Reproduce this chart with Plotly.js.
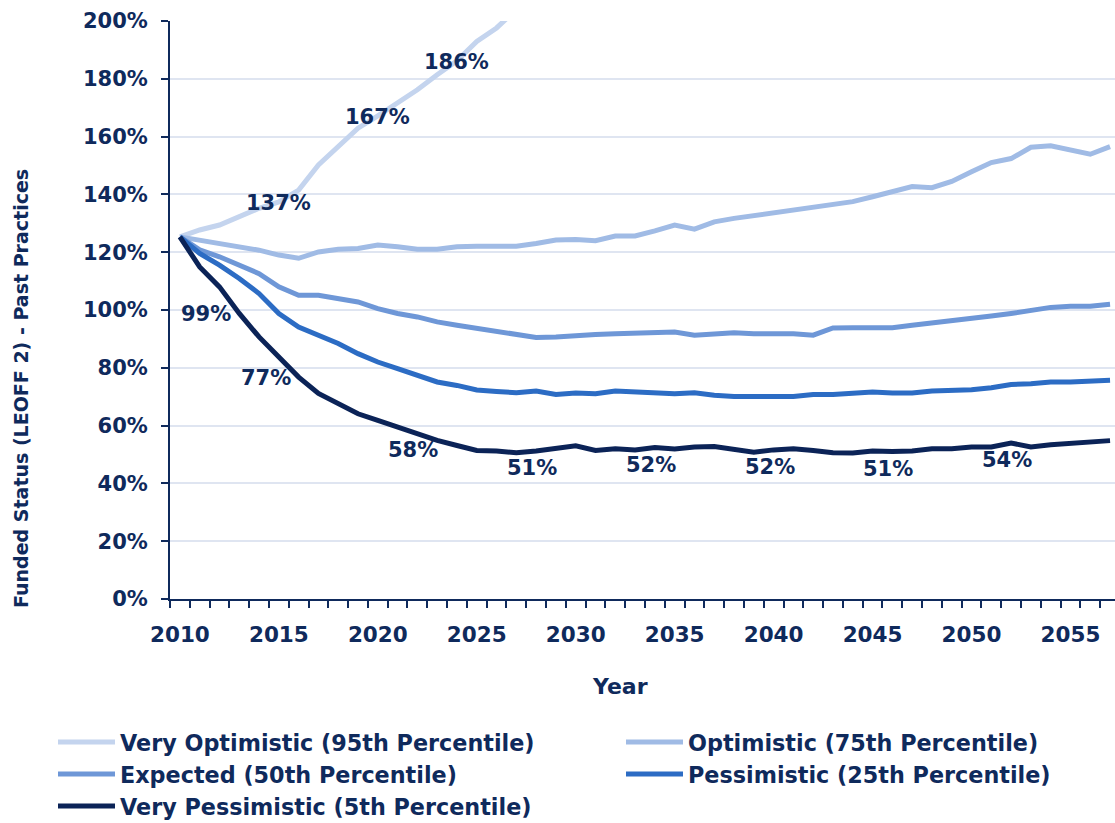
<!DOCTYPE html>
<html>
<head>
<meta charset="utf-8">
<script src="https://cdn.plot.ly/plotly-3.0.1.min.js"></script>
<style>
  html, body { margin: 0; padding: 0; background: #ffffff; }
  #chart { width: 1115px; height: 823px; }
</style>
</head>
<body>
<div id="chart"></div>
<script>
const years = [2010, 2011, 2012, 2013, 2014, 2015, 2016, 2017, 2018, 2019,
  2020, 2021, 2022, 2023, 2024, 2025, 2026, 2027, 2028, 2029,
  2030, 2031, 2032, 2033, 2034, 2035, 2036, 2037, 2038, 2039,
  2040, 2041, 2042, 2043, 2044, 2045, 2046, 2047, 2048, 2049,
  2050, 2051, 2052, 2053, 2054, 2055, 2056, 2057];

const veryOptimistic = [125.3, 127.7, 129.4, 132.3, 135.2, 137.4, 141.5, 150.2, 156.5, 162.9,
  167.2, 171.6, 176.2, 181.4, 186.2, 192.9, 197.6, 204.0, 210.0, null,
  null, null, null, null, null, null, null, null, null, null,
  null, null, null, null, null, null, null, null, null, null,
  null, null, null, null, null, null, null, null];

const optimistic = [125.3, 124.2, 123.3, 122.1, 120.7, 119.0, 117.9, 120.1, 121.0, 121.3,
  122.5, 121.9, 121.0, 121.0, 121.9, 122.1, 121.9, 122.1, 123.0, 124.2,
  124.4, 124.0, 125.6, 125.6, 127.4, 129.4, 128.0, 130.5, 131.7, 132.6,
  133.7, 134.6, 135.7, 136.4, 137.5, 139.2, 141.0, 142.7, 142.3, 144.5,
  147.8, 151.0, 152.4, 156.3, 156.8, 155.3, 153.9, 156.5];

const expected = [125.3, 120.8, 118.4, 115.5, 112.6, 108.0, 105.1, 105.1, 104.0, 102.8,
  100.5, 98.8, 97.6, 95.9, 94.7, 93.6, 92.4, 91.5, 90.5, 90.7,
  91.3, 91.5, 91.8, 92.1, 92.1, 92.4, 91.3, 91.8, 92.1, 91.8,
  91.8, 91.8, 91.3, 93.8, 93.9, 93.9, 93.9, 94.7, 95.5, 95.9,
  96.7, 97.9, 98.8, 99.9, 100.9, 101.3, 101.3, 102.0];

const pessimistic = [125.3, 119.6, 115.5, 110.9, 105.7, 98.8, 94.1, 91.3, 88.4, 84.9,
  82.0, 79.7, 77.4, 75.1, 73.9, 72.3, 71.8, 71.4, 72.0, 70.8,
  71.3, 71.0, 72.0, 71.6, 71.4, 71.0, 71.4, 70.5, 70.1, 69.9,
  70.1, 70.1, 70.8, 70.8, 71.0, 71.6, 71.3, 71.3, 72.0, 72.2,
  72.4, 73.1, 74.2, 74.5, 75.1, 75.1, 75.4, 75.7];

const veryPessimistic = [125.3, 114.9, 108.0, 98.8, 90.7, 83.7, 76.8, 71.1, 67.6, 64.1,
  61.8, 59.5, 57.6, 54.9, 53.1, 51.4, 51.2, 50.6, 51.2, 52.3,
  53.0, 51.4, 52.0, 51.6, 52.4, 51.9, 52.6, 52.8, 52.0, 50.8,
  51.6, 52.0, 51.4, 50.6, 50.5, 51.2, 51.0, 51.2, 52.0, 52.0,
  52.6, 52.6, 54.0, 52.6, 53.4, 54.0, 54.2, 54.8];

const seriesNames = [
  'Very Optimistic (95th Percentile)',
  'Optimistic (75th Percentile)',
  'Expected (50th Percentile)',
  'Pessimistic (25th Percentile)',
  'Very Pessimistic (5th Percentile)'
];

const voLabelYears = [2015, 2020, 2024];
const voLabelTexts = ['137%', '167%', '186%'];
const vpLabelYears = [2013, 2016, 2022, 2028, 2034, 2040, 2046, 2052];
const vpLabelTexts = ['99%', '77%', '58%', '51%', '52%', '52%', '51%', '54%'];

const xTickVals = [2010, 2015, 2020, 2025, 2030, 2035, 2040, 2045, 2050, 2055];
const xTickText = ['2010', '2015', '2020', '2025', '2030', '2035', '2040', '2045', '2050', '2055'];

const xTitle = 'Year';
const yTitle = 'Funded Status (LEOFF 2) - Past Practices';

// ---- styling ----
const W = 1115, H = 823;
const NAVY = '#0f2a5c';
const FONT = '"DejaVu Sans", sans-serif';
const colors = ['#c4d4ee', '#a0bbe5', '#6e97d7', '#2c6cc4', '#0b2357'];
const seriesData = [veryOptimistic, optimistic, expected, pessimistic, veryPessimistic];
const legendIds = ['legend', 'legend2', 'legend3', 'legend4', 'legend5'];
// legend slot (left px of line sample, row centre px) for each series
const legendSlots = [[58, 742], [626, 742], [58, 774], [626, 774], [58, 806]];

const PLOT_L = 170, PLOT_W = 945, PLOT_T = 21, PLOT_H = 578;
const PLOT_B = PLOT_T + PLOT_H;

const traces = seriesData.map((ys, i) => ({
  type: 'scatter',
  mode: 'lines',
  x: years,
  y: ys,
  name: seriesNames[i],
  legend: legendIds[i],
  line: { color: colors[i], width: 5, shape: 'linear' },
  connectgaps: false,
  hoverinfo: 'skip'
}));

function valueAt(arr, yr) { return arr[years.indexOf(yr)]; }

const labelFont = { family: FONT, size: 21, color: NAVY, weight: 'bold' };
const annotations = [];
voLabelYears.forEach((yr, k) => {
  annotations.push({
    x: yr, y: valueAt(veryOptimistic, yr), xref: 'x', yref: 'y',
    text: voLabelTexts[k], showarrow: false,
    xanchor: 'center', yanchor: 'middle', yshift: -1,
    font: labelFont
  });
});
vpLabelYears.forEach((yr, k) => {
  const left = k < 2;
  annotations.push({
    x: yr, y: valueAt(veryPessimistic, yr), xref: 'x', yref: 'y',
    text: vpLabelTexts[k], showarrow: false,
    xanchor: left ? 'right' : 'center',
    yanchor: left ? 'middle' : 'top',
    xshift: left ? -6 : -4,
    yshift: left ? -1 : -3,
    font: labelFont
  });
});
// axis titles placed as in the reference
annotations.push({
  xref: 'paper', yref: 'paper',
  x: (620 - PLOT_L) / PLOT_W, y: (PLOT_B - 686) / PLOT_H,
  xanchor: 'center', yanchor: 'middle', showarrow: false,
  text: xTitle, font: { family: FONT, size: 22, color: NAVY, weight: 'bold' }
});
annotations.push({
  xref: 'paper', yref: 'paper',
  x: (21 - PLOT_L) / PLOT_W, y: (PLOT_B - 389) / PLOT_H,
  xanchor: 'center', yanchor: 'middle', showarrow: false, textangle: -90,
  text: yTitle, font: { family: FONT, size: 19, color: NAVY, weight: 'bold' }
});

const layout = {
  width: W,
  height: H,
  margin: { l: PLOT_L, r: 0, t: PLOT_T, b: H - PLOT_B, autoexpand: false },
  paper_bgcolor: '#ffffff',
  plot_bgcolor: '#ffffff',
  font: { family: FONT, size: 21, color: NAVY, weight: 'bold' },
  showlegend: true,
  xaxis: {
    automargin: false,
    range: [2009.5, 2057.25],
    tickmode: 'array',
    tickvals: xTickVals,
    ticktext: xTickText,
    ticks: 'outside',
    ticklen: 6,
    tickcolor: 'rgba(0,0,0,0)',
    ticklabelstandoff: 9,
    showgrid: false,
    zeroline: false,
    showline: true,
    linecolor: NAVY,
    linewidth: 2,
    tickfont: { family: FONT, size: 21.5, color: NAVY, weight: 'bold' },
    minor: { tick0: 2009.5, dtick: 1, ticks: 'outside', ticklen: 7, tickwidth: 2, tickcolor: NAVY, showgrid: false }
  },
  yaxis: {
    automargin: false,
    range: [0, 200],
    tickmode: 'linear',
    tick0: 0,
    dtick: 20,
    ticksuffix: '%',
    ticks: 'outside',
    ticklen: 7,
    tickwidth: 2,
    tickcolor: NAVY,
    ticklabelstandoff: 9,
    showgrid: true,
    gridcolor: '#dfe5f1',
    gridwidth: 2,
    zeroline: false,
    showline: true,
    linecolor: NAVY,
    linewidth: 2,
    tickfont: { family: FONT, size: 21, color: NAVY, weight: 'bold' }
  },
  annotations: annotations
};

legendIds.forEach((id, i) => {
  const [px, py] = legendSlots[i];
  layout[id] = {
    x: (px - 5 - PLOT_L) / PLOT_W, xanchor: 'left', xref: 'paper',
    y: (PLOT_B - py) / PLOT_H, yanchor: 'middle', yref: 'paper',
    orientation: 'v', bgcolor: 'rgba(0,0,0,0)', borderwidth: 0,
    itemwidth: 57,
    font: { family: FONT, size: 22.3, color: NAVY, weight: 'bold' }
  };
});

Plotly.newPlot('chart', traces, layout, { displayModeBar: false, staticPlot: true });
</script>
</body>
</html>
